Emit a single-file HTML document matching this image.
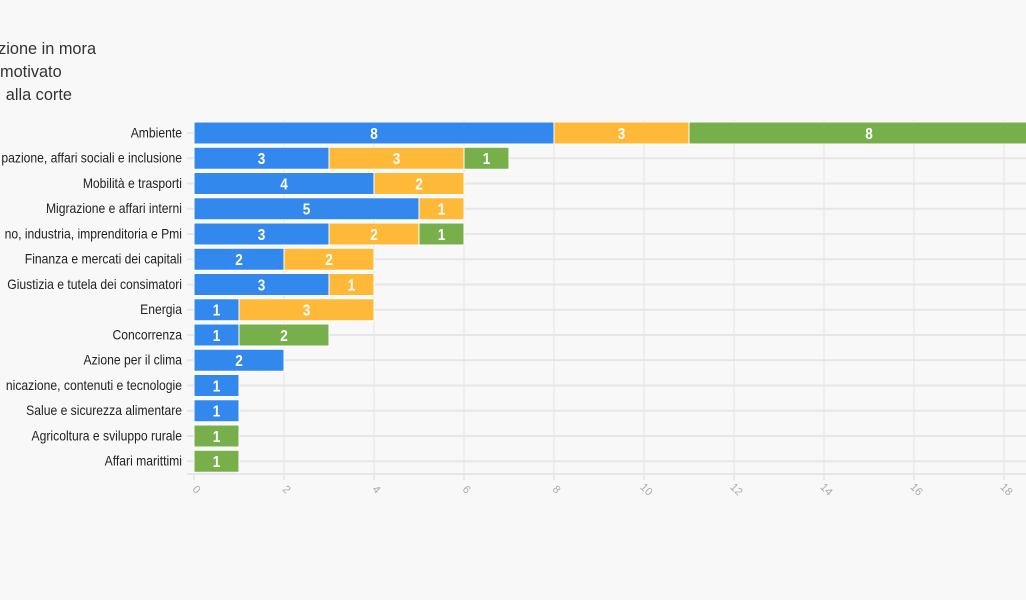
<!DOCTYPE html>
<html><head><meta charset="utf-8"><style>
body{margin:0;background:#f8f8f8;}
svg{display:block;font-family:"Liberation Sans",sans-serif;}
</style></head><body>
<svg width="1026" height="600" viewBox="0 0 1026 600">
<rect width="1026" height="600" fill="#f8f8f8"/>
<g font-size="17" fill="#333" transform="scale(0.96,1)">
<text x="-2" y="54">zione in mora</text>
<text x="0" y="77">motivato</text>
<text x="6" y="100">alla corte</text>
</g>
<g stroke="#ebebeb" stroke-width="1.5">
<line x1="284" y1="120" x2="284" y2="478"/><line x1="374" y1="120" x2="374" y2="478"/>
<line x1="464" y1="120" x2="464" y2="478"/><line x1="554" y1="120" x2="554" y2="478"/>
<line x1="644" y1="120" x2="644" y2="478"/><line x1="734" y1="120" x2="734" y2="478"/>
<line x1="824" y1="120" x2="824" y2="478"/><line x1="914" y1="120" x2="914" y2="478"/>
<line x1="1004" y1="120" x2="1004" y2="478"/>
</g>
<g id="rows" stroke="#e6e6e6" stroke-width="2"></g>
<g id="bars"></g>
<g transform="translate(182,0) scale(0.9,1) translate(-182,0)"><g id="labels" font-size="13.5" fill="#222" text-anchor="end"></g></g>
<line x1="187" y1="474" x2="1026" y2="474" stroke="#e6e6e6" stroke-width="2"/>
<g id="ticks" font-size="11" fill="#aaa"></g>
<script>
var d=[["Ambiente",8,3,8],["pazione, affari sociali e inclusione",3,3,1],["Mobilità e trasporti",4,2,0],["Migrazione e affari interni",5,1,0],["no, industria, imprenditoria e Pmi",3,2,1],["Finanza e mercati dei capitali",2,2,0],["Giustizia e tutela dei consimatori",3,1,0],["Energia",1,3,0],["Concorrenza",1,0,2],["Azione per il clima",2,0,0],["nicazione, contenuti e tecnologie",1,0,0],["Salue e sicurezza alimentare",1,0,0],["Agricoltura e sviluppo rurale",0,0,1],["Affari marittimi",0,0,1]];
var c=["#3388ee","#ffb938","#77b04a"],ns="http://www.w3.org/2000/svg";
function el(p,t,a,tx){var e=document.createElementNS(ns,t);for(var k in a)e.setAttribute(k,a[k]);if(tx!=null)e.textContent=tx;document.getElementById(p).appendChild(e);return e;}
d.forEach(function(r,i){var y=122+25.25*i,cy=y+11;
el("rows","line",{x1:187,y1:cy,x2:1026,y2:cy});
el("labels","text",{x:182,y:cy+4.5},r[0]);
var x=194;for(var j=0;j<3;j++){var v=r[j+1];if(!v)continue;var w=v*45;
el("bars","rect",{x:x,y:y,width:w,height:22,fill:c[j],stroke:"#fff","stroke-width":1});
var cx=x+w/2;
el("bars","text",{x:cx,y:cy+6,"text-anchor":"middle","font-size":16,"font-weight":"bold",fill:"#fff",transform:"translate("+cx+",0) scale(0.85,1) translate("+(-cx)+",0)"},v);x+=w;}
});
for(var t=0;t<=18;t+=2){var x=194+t*45;el("ticks","line",{x1:x,y1:474,x2:x,y2:480,stroke:"#e6e6e6","stroke-width":1.5});
el("ticks","text",{x:x,y:492,transform:"rotate(45 "+x+" 492)","text-anchor":"middle"},t);}
</script>
</svg>
</body></html>
